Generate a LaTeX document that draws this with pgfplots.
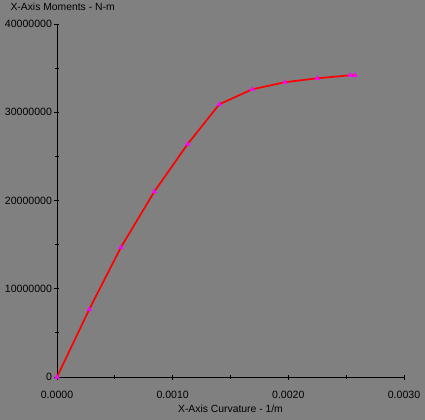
\documentclass[border=0pt]{standalone}
\usepackage{pgfplots}
\pgfplotsset{compat=1.18}
\usepackage{fontspec}
\setmainfont{Liberation Sans}
\definecolor{bg}{RGB}{128,128,128}
\definecolor{lin}{RGB}{255,0,0}
\definecolor{mk}{RGB}{255,0,255}
\newcommand\tickfont{\fontsize{10.6}{13}\selectfont}
\begin{document}
\begin{tikzpicture}
\fill[bg] (-57bp,-43bp) rectangle (368bp,377bp);
\useasboundingbox (-57bp,-43bp) rectangle (368bp,377bp);
\begin{axis}[
  scale only axis, width=347bp, height=353bp,
  at={(0,0)}, anchor=south west,
  xmin=0, xmax=0.003, ymin=0, ymax=40000000,
  axis x line*=bottom, axis y line*=left,
  axis line style={black, line width=0.8bp, -},
  xtick={0,0.001,0.002,0.003},
  xticklabels={0.0000,0.0010,0.0020,0.0030},
  minor xtick={0.0005,0.0015,0.0025},
  ytick={0,10000000,20000000,30000000,40000000},
  yticklabels={0,10000000,20000000,30000000,40000000},
  minor ytick={5000000,15000000,25000000,35000000},
  scaled ticks=false,
  tick align=center,
  major tick length=5bp, minor tick length=4bp,
  tick style={black, line width=0.8bp},
  label style={font=\fontsize{10.4}{13}\selectfont},
  xticklabel style={font=\tickfont, anchor=center, yshift=-15bp},
  yticklabel style={font=\tickfont, xshift=1bp},
  xlabel={X-Axis Curvature - 1/m},
  xlabel style={at={(rel axis cs:0.5,0)}, anchor=center, yshift=-32bp},
  ylabel={X-Axis Moments - N-m},
  ylabel style={rotate=-90, at={(rel axis cs:0,1)}, anchor=west, xshift=-50bp, yshift=17bp},
  clip=false,
]
\addplot[color=lin, line width=1.7bp, mark=triangle*, mark size=2.6bp,
  mark options={fill=mk, draw=mk, line width=0.4bp}] coordinates {
  (0,0)
  (0.000279,7670000)
  (0.000553,14700000)
  (0.000841,21000000)
  (0.00113,26400000)
  (0.001403,30900000)
  (0.001688,32600000)
  (0.00197,33400000)
  (0.00225,33850000)
  (0.002535,34190000)
  (0.002576,34190000)
};
\end{axis}
\end{tikzpicture}
\end{document}
